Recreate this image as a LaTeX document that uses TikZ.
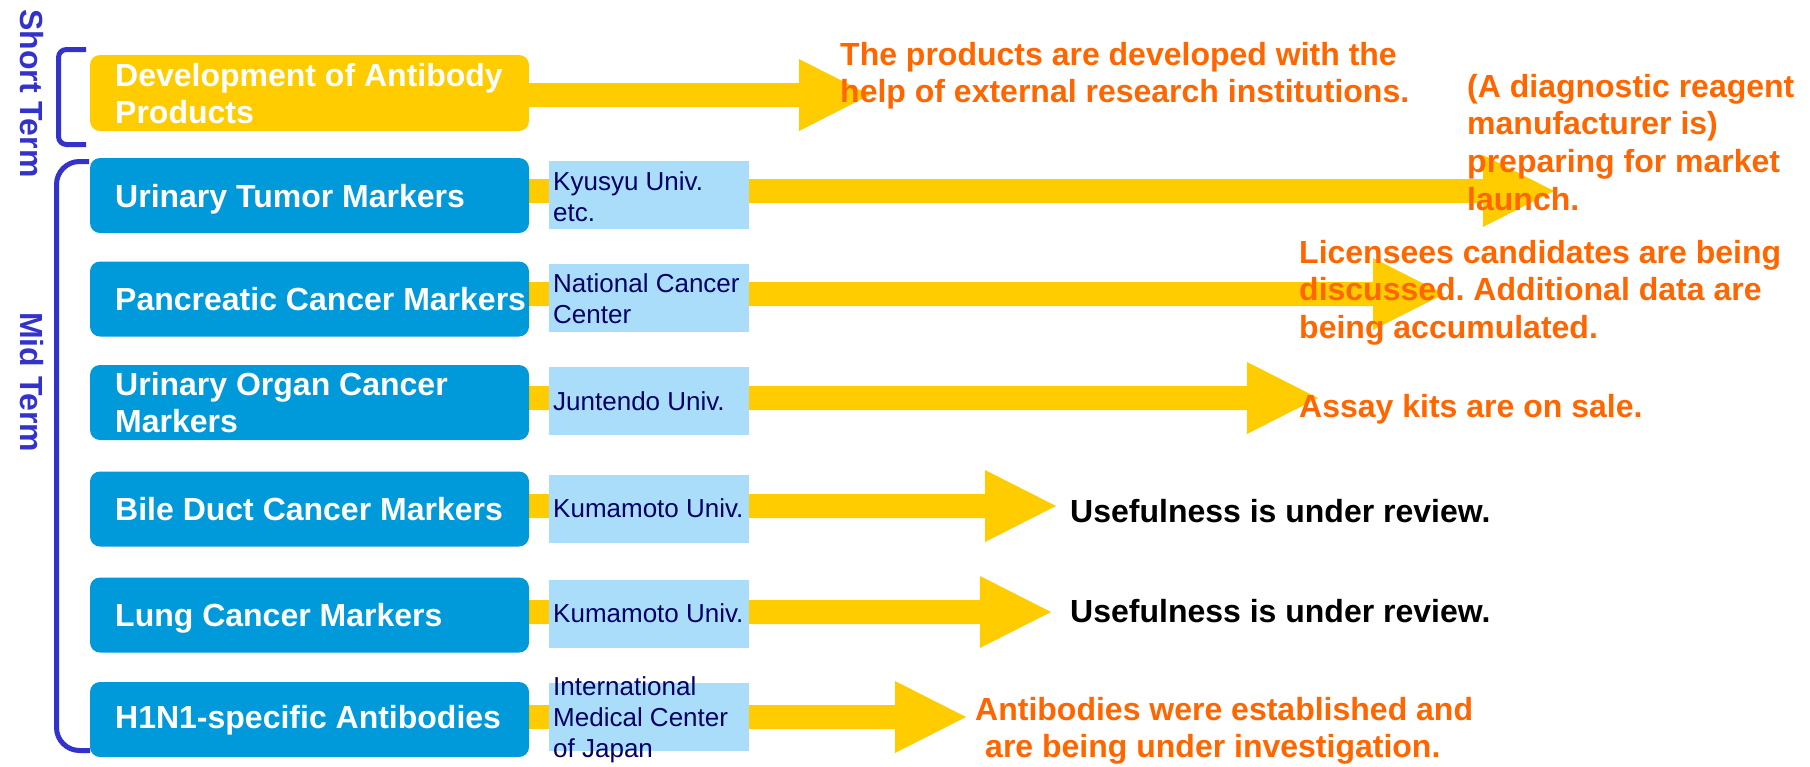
\documentclass[tikz,border=0pt]{standalone}
\usepackage{fontspec}
\setmainfont{Liberation Sans}
\usetikzlibrary{calc}
\frenchspacing

\definecolor{gold}{HTML}{FFCC00}
\definecolor{boxblue}{HTML}{0099DA}
\definecolor{paleblue}{HTML}{AADDFA}
\definecolor{navy}{HTML}{000066}
\definecolor{termblue}{HTML}{3333CC}
\definecolor{note}{HTML}{FF6600}

\pgfdeclarelayer{background}
\pgfsetlayers{background,main}

% broad yellow arrow from the right side of a box (#1) to a tip coordinate (#2)
\newcommand\goldarrow[2]{%
  \path (#1.east|-#2) coordinate (#1-from);
  \fill[gold] ($(#1-from)+(0,-12)$) -- ($(#2)+(-71,-12)$) -- ($(#2)+(-71,-36)$)
    -- (#2) -- ($(#2)+(-71,36)$) -- ($(#2)+(-71,12)$) -- ($(#1-from)+(0,12)$) -- cycle;}

% stacked lines whose first baseline is the node's base
\newcommand\stack[1]{\begin{tabular}[t]{@{}l@{}}#1\end{tabular}}

\tikzset{
  topic/.style={fill=boxblue, rounded corners=10pt, minimum width=439pt,
    minimum height=75pt, inner sep=0pt},
  shortopic/.style={topic, fill=gold, minimum height=76pt},
  partner/.style={fill=paleblue, minimum width=200pt, minimum height=68pt, inner sep=0pt},
  topictext/.style={anchor=base west, inner sep=0pt, text=white,
    font=\fontsize{32}{37.5}\selectfont\bfseries},
  partnertext/.style={anchor=base west, inner sep=0pt, text=navy,
    font=\fontsize{26}{31}\selectfont},
  notetext/.style={anchor=base west, inner sep=0pt, text=note,
    font=\fontsize{32}{37.8}\selectfont\bfseries},
  plaintext/.style={notetext, text=black},
  termlabel/.style={rotate=-90, inner sep=0pt, text=termblue,
    font=\fontsize{32}{38}\selectfont\bfseries},
  bracket/.style={draw=termblue, line width=5pt},
}

\begin{document}
\begin{tikzpicture}[x=1pt, y=-1pt]
\useasboundingbox (0,0) rectangle (1810,766);

% topic boxes
\path
  node[shortopic] (d0) at (309.5,93)    {}
  node[topic]     (b1) at (309.5,195.5) {}
  node[topic]     (b2) at (309.5,299)   {}
  node[topic]     (b3) at (309.5,402.5) {}
  node[topic]     (b4) at (309.5,509)   {}
  node[topic]     (b5) at (309.5,615)   {}
  node[topic]     (b6) at (309.5,719.5) {};

% partner institutions
\path
  node[partner] (u1) at (649,194.5) {}
  node[partner] (u2) at (649,298)   {}
  node[partner] (u3) at (649,400.5) {}
  node[partner] (u4) at (649,508.5) {}
  node[partner] (u5) at (649,614)   {}
  node[partner] (u6) at (649,717)   {};

% arrow tips
\coordinate (tip0) at (870,95);
\coordinate (tip1) at (1554,191);
\coordinate (tip2) at (1444,294);
\coordinate (tip3) at (1318,398);
\coordinate (tip4) at (1056,506);
\coordinate (tip5) at (1051,612);
\coordinate (tip6) at (966,717);

% arrows run behind the boxes
\begin{pgfonlayer}{background}
\goldarrow{d0}{tip0}
\goldarrow{b1}{tip1}
\goldarrow{b2}{tip2}
\goldarrow{b3}{tip3}
\goldarrow{b4}{tip4}
\goldarrow{b5}{tip5}
\goldarrow{b6}{tip6}
\end{pgfonlayer}

% topic labels
\node[topictext] (l0) at (115,86)    {\stack{Development of Antibody\\Products}};
\node[topictext] (l1) at (115,207)   {Urinary Tumor Markers};
\node[topictext] (l2) at (115,310)   {Pancreatic Cancer Markers};
\node[topictext] (l3) at (115,395)   {\stack{Urinary Organ Cancer\\Markers}};
\node[topictext] (l4) at (115,520)   {Bile Duct Cancer Markers};
\node[topictext] (l5) at (115,626)   {Lung Cancer Markers};
\node[topictext] (l6) at (115,728)   {H1N1-specific Antibodies};

% partner labels
\node[partnertext] (p1) at (553,190) {\stack{Kyusyu Univ.\\etc.}};
\node[partnertext] (p2) at (553,292) {\stack{National Cancer\\Center}};
\node[partnertext] (p3) at (553,410) {Juntendo Univ.};
\node[partnertext] (p4) at (553,517) {Kumamoto Univ.};
\node[partnertext] (p5) at (553,622) {Kumamoto Univ.};
\node[partnertext] (p6) at (553,695) {\stack{International\\Medical Center\\of Japan}};

% status notes
\node[notetext] (n0) at (840,65)   {\stack{The products are developed with the\\help of external research institutions.}};
\node[notetext] (n1) at (1467,97)  {\stack{(A diagnostic reagent\\manufacturer is)\\preparing for market\\launch.}};
\node[notetext] (n2) at (1299,263) {\stack{Licensees candidates are being\\discussed. Additional data are\\being accumulated.}};
\node[notetext] (n3) at (1299,417) {Assay kits are on sale.};
\node[plaintext] (n4) at (1070,522) {Usefulness is under review.};
\node[plaintext] (n5) at (1070,622) {Usefulness is under review.};
\node[notetext] (n6) at (975,720)  {\stack{Antibodies were established and\\\hspace*{10pt}are being under investigation.}};

% term brackets and labels
\draw[bracket, rounded corners=8pt] (86,49.5) -- (58.5,49.5) -- (58.5,144.5) -- (86,144.5);
\draw[bracket, rounded corners=23pt] (89,161.5) -- (56.5,161.5) -- (56.5,750.5) -- (90,750.5);
\node[termlabel] (st) at (31.5,93.5) {Short Term};
\node[termlabel] (mt) at (31.5,382)  {Mid Term};
\end{tikzpicture}
\end{document}
